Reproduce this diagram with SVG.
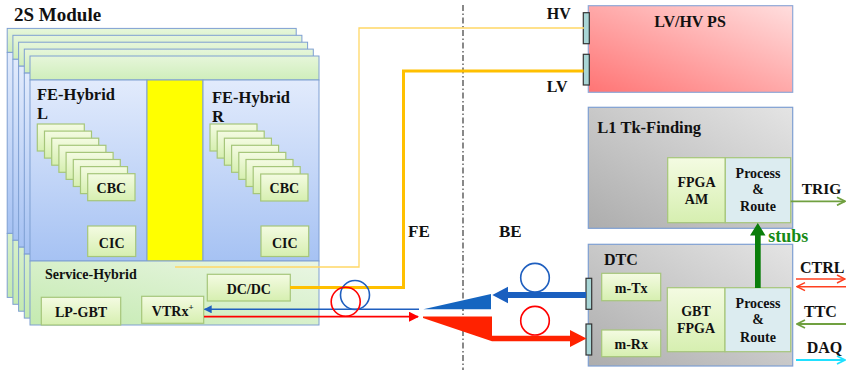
<svg xmlns="http://www.w3.org/2000/svg" width="846" height="370" viewBox="0 0 846 370">
<defs>
<linearGradient id="gTop" x1="0" y1="0" x2="0" y2="1"><stop offset="0" stop-color="#e6f6da"/><stop offset="1" stop-color="#cfeebb"/></linearGradient>
<linearGradient id="gBlue" x1="0" y1="0" x2="0" y2="1"><stop offset="0" stop-color="#e2ebfc"/><stop offset="1" stop-color="#a6c2f3"/></linearGradient>
<linearGradient id="gSvc" x1="0" y1="1" x2="1" y2="0"><stop offset="0" stop-color="#c4eab0"/><stop offset="1" stop-color="#eaf6e4"/></linearGradient>
<linearGradient id="gChip" x1="0" y1="0" x2="0" y2="1"><stop offset="0" stop-color="#f4fbe2"/><stop offset="1" stop-color="#d6efb0"/></linearGradient>
<linearGradient id="gGray" x1="0" y1="1" x2="1" y2="0"><stop offset="0" stop-color="#adadad"/><stop offset="1" stop-color="#e4e4e4"/></linearGradient>
<linearGradient id="gRed" x1="0" y1="1" x2="1" y2="0"><stop offset="0" stop-color="#ff7474"/><stop offset="1" stop-color="#ffdede"/></linearGradient>
<marker id="aBlue" viewBox="0 0 10 10" refX="9" refY="5" markerWidth="8" markerHeight="8" markerUnits="userSpaceOnUse" orient="auto"><path d="M0,0 L10,5 L0,10 Z" fill="#1f5fbf"/></marker>
<marker id="aRed" viewBox="0 0 10 10" refX="9" refY="5" markerWidth="10" markerHeight="10" markerUnits="userSpaceOnUse" orient="auto"><path d="M0,0 L10,5 L0,10 Z" fill="#ff0000"/></marker>
<marker id="oRed" viewBox="0 0 10 10" refX="9" refY="5" markerWidth="10" markerHeight="10" markerUnits="userSpaceOnUse" orient="auto"><path d="M1,1 L9,5 L1,9" fill="none" stroke="#ff4020" stroke-width="1.5"/></marker>
<marker id="oGreen" viewBox="0 0 10 10" refX="9" refY="5" markerWidth="10" markerHeight="10" markerUnits="userSpaceOnUse" orient="auto"><path d="M1,1 L9,5 L1,9" fill="none" stroke="#70a040" stroke-width="1.8"/></marker>
<marker id="oCyan" viewBox="0 0 10 10" refX="9" refY="5" markerWidth="10" markerHeight="10" markerUnits="userSpaceOnUse" orient="auto"><path d="M1,1 L9,5 L1,9" fill="none" stroke="#20e0ff" stroke-width="1.8"/></marker>
</defs>
<style>
text{font-family:"Liberation Serif","Times New Roman",serif;font-weight:bold;fill:#111}
.m{text-anchor:middle}
.edge{stroke:#7e9fd2;stroke-width:1}
.chip{fill:url(#gChip);stroke:#a6c67a;stroke-width:1.2}
.conn{fill:#a9d6d6;stroke:#333;stroke-width:1.2}
.big{fill:url(#gGray);stroke:#7e9fd2;stroke-width:1.2}
.t14{font-size:14px}
.t16{font-size:16px}
</style>
<rect width="846" height="370" fill="#fff"/>

<text x="14" y="21" style="font-size:19px">2S Module</text>

<g id="layer4" transform="translate(-22.8,-27.6)">
<rect x="30" y="56" width="289" height="24" fill="url(#gTop)" class="edge"/>
<rect x="30" y="80" width="289" height="181" fill="url(#gBlue)" class="edge"/>
<rect x="30" y="261" width="289" height="64" fill="url(#gSvc)" class="edge"/>
</g>
<g id="layer3" transform="translate(-17.1,-20.7)">
<rect x="30" y="56" width="289" height="24" fill="url(#gTop)" class="edge"/>
<rect x="30" y="80" width="289" height="181" fill="url(#gBlue)" class="edge"/>
<rect x="30" y="261" width="289" height="64" fill="url(#gSvc)" class="edge"/>
</g>
<g id="layer2" transform="translate(-11.4,-13.8)">
<rect x="30" y="56" width="289" height="24" fill="url(#gTop)" class="edge"/>
<rect x="30" y="80" width="289" height="181" fill="url(#gBlue)" class="edge"/>
<rect x="30" y="261" width="289" height="64" fill="url(#gSvc)" class="edge"/>
</g>
<g id="layer1" transform="translate(-5.7,-6.9)">
<rect x="30" y="56" width="289" height="24" fill="url(#gTop)" class="edge"/>
<rect x="30" y="80" width="289" height="181" fill="url(#gBlue)" class="edge"/>
<rect x="30" y="261" width="289" height="64" fill="url(#gSvc)" class="edge"/>
</g>

<g id="module-front">
<rect x="30" y="56" width="289" height="24" fill="url(#gTop)" class="edge"/>
<rect x="30" y="80" width="117" height="181" fill="url(#gBlue)" class="edge"/>
<rect x="147" y="80" width="56" height="181" fill="#ffff00" class="edge"/>
<rect x="203" y="80" width="116" height="181" fill="url(#gBlue)" class="edge"/>
</g>

<g id="fe-hybrid-l">
<text x="37" y="100" style="font-size:16.5px">FE-Hybrid</text>
<text x="37" y="119" style="font-size:16.5px">L</text>
<rect class="chip" x="37.3" y="124" width="47" height="27"/>
<rect class="chip" x="44.5" y="131.1" width="47" height="27"/>
<rect class="chip" x="51.7" y="138.2" width="47" height="27"/>
<rect class="chip" x="58.9" y="145.3" width="47" height="27"/>
<rect class="chip" x="66.1" y="152.4" width="47" height="27"/>
<rect class="chip" x="73.3" y="159.5" width="47" height="27"/>
<rect class="chip" x="80.5" y="166.6" width="47" height="27"/>
<g id="cbc-l"><rect class="chip" x="87.7" y="173.7" width="47.3" height="27"/><text class="m t14" x="111.3" y="193">CBC</text></g>
<g id="cic-l"><rect class="chip" x="87.7" y="226" width="48" height="30.5"/><text class="m t14" x="111.7" y="247.5">CIC</text></g>
</g>

<g id="fe-hybrid-r">
<text x="212" y="103" style="font-size:16.5px">FE-Hybrid</text>
<text x="212" y="122" style="font-size:16.5px">R</text>
<rect class="chip" x="210" y="124" width="47" height="27"/>
<rect class="chip" x="217.2" y="131.1" width="47" height="27"/>
<rect class="chip" x="224.4" y="138.2" width="47" height="27"/>
<rect class="chip" x="231.6" y="145.3" width="47" height="27"/>
<rect class="chip" x="238.8" y="152.4" width="47" height="27"/>
<rect class="chip" x="246" y="159.5" width="47" height="27"/>
<rect class="chip" x="253.2" y="166.6" width="47" height="27"/>
<g id="cbc-r"><rect class="chip" x="260.7" y="174" width="47.3" height="27"/><text class="m t14" x="284.3" y="193.3">CBC</text></g>
<g id="cic-r"><rect class="chip" x="261" y="226" width="47.7" height="30.5"/><text class="m t14" x="284.8" y="247.5">CIC</text></g>
</g>

<g id="service-hybrid">
<rect x="30" y="261" width="289" height="64" fill="url(#gSvc)" class="edge"/>
<text class="t14" x="45" y="279.3">Service-Hybrid</text>
<g id="lp-gbt"><rect class="chip" x="41.3" y="297.3" width="79.4" height="27.7"/><text class="m t14" x="81" y="316.7">LP-GBT</text></g>
<g id="vtrx"><rect class="chip" x="141.7" y="296.3" width="62" height="27"/><text class="m t14" x="172.7" y="316">VTRx<tspan dy="-6" style="font-size:9px">+</tspan></text></g>
<g id="dcdc"><rect class="chip" x="207.3" y="274.3" width="83" height="26.7"/><text class="m t14" x="248.8" y="293.7">DC/DC</text></g>
</g>

<g id="lvhv-ps">
<rect x="588.3" y="5.7" width="204.4" height="86.6" fill="url(#gRed)" stroke="#8fa8d8" stroke-width="1.2"/>
<text class="m t16" x="690" y="26.7">LV/HV PS</text>
<rect class="conn" x="583.3" y="12.7" width="6" height="31"/>
<rect class="conn" x="583.3" y="54.3" width="6" height="30.7"/>
</g>

<g id="l1-tk-finding">
<rect class="big" x="588.3" y="107.3" width="204.4" height="121"/>
<text x="597.3" y="133.3" style="font-size:16.5px">L1 Tk-Finding</text>
<g id="fpga-am"><rect class="chip" x="667.7" y="157.7" width="57.6" height="65"/><text class="m t14" x="696.5" y="187.3">FPGA</text><text class="m t14" x="696.5" y="204">AM</text></g>
<g id="pr-l1"><rect x="725.3" y="157.7" width="65.4" height="65" fill="#dcecf0" stroke="#a6c67a" stroke-width="1.2"/><text class="m t14" x="758" y="178.3">Process</text><text class="m t14" x="758" y="194">&amp;</text><text class="m t14" x="758" y="210.7">Route</text></g>
</g>

<g id="dtc">
<rect class="big" x="588.3" y="244.3" width="204.4" height="121.7"/>
<text class="t16" x="604" y="265">DTC</text>
<g id="m-tx"><rect class="chip" x="601.7" y="273.3" width="59" height="27.4"/><text class="m t14" x="631.2" y="293">m-Tx</text></g>
<g id="m-rx"><rect class="chip" x="601.7" y="330" width="59" height="26.7"/><text class="m t14" x="631.2" y="349">m-Rx</text></g>
<g id="gbt-fpga"><rect class="chip" x="667.3" y="287.7" width="57.7" height="64"/><text class="m t14" x="696" y="316">GBT</text><text class="m t14" x="696" y="333">FPGA</text></g>
<g id="pr-dtc"><rect x="725" y="287.7" width="65.7" height="64" fill="#dcecf0" stroke="#a6c67a" stroke-width="1.2"/><text class="m t14" x="758" y="308.3">Process</text><text class="m t14" x="758" y="324.3">&amp;</text><text class="m t14" x="758" y="341.7">Route</text></g>
<rect class="conn" x="586" y="278.3" width="5.7" height="31"/>
<rect class="conn" x="586" y="324" width="5.7" height="31"/>
</g>

<g id="labels">
<text class="t16" x="546.7" y="19.3">HV</text>
<text class="t16" x="546.7" y="92">LV</text>
<text x="408" y="237" style="font-size:17px">FE</text>
<text x="499" y="237" style="font-size:17px">BE</text>
<text x="801.7" y="194" style="font-size:15.5px">TRIG</text>
<text x="768.3" y="241.7" style="font-size:18px;fill:#168a16">stubs</text>
<text class="t16" x="800" y="273.3">CTRL</text>
<text class="t16" x="804" y="316.5">TTC</text>
<text class="t16" x="806.7" y="353">DAQ</text>
</g>

<g id="connectors">
<line x1="463" y1="5" x2="463" y2="370" stroke="#4a4a4a" stroke-width="1.3" stroke-dasharray="6 2.5 1.5 2.5"/>
<path d="M175,267 H359 V28 H584" fill="none" stroke="#ffd766" stroke-width="1.3"/>
<path d="M290,287.5 H403.5 V71 H583.5" fill="none" stroke="#ffc000" stroke-width="3"/>
<line x1="419" y1="309.3" x2="204.5" y2="309.3" stroke="#1f5fbf" stroke-width="1.6" marker-end="url(#aBlue)"/>
<line x1="204" y1="316.7" x2="418" y2="316.7" stroke="#ff0000" stroke-width="1.8" marker-end="url(#aRed)"/>
<circle cx="355" cy="295" r="14.5" fill="none" stroke="#1f5fbf" stroke-width="1.6"/>
<circle cx="345.7" cy="301.7" r="14.5" fill="none" stroke="#ff0000" stroke-width="1.6"/>
<polygon points="423.3,309.3 491,294 491,309.3" fill="#1565c0"/>
<polygon points="492.3,295 508,286.7 508,292 586,292 586,298 508,298 508,303.3" fill="#1a5fbf"/>
<circle cx="535" cy="277.7" r="14.3" fill="none" stroke="#1f5fbf" stroke-width="1.6"/>
<polygon points="423,316.5 492,316.5 492,335.8 570,335.8 570,330 586.5,338.5 570,347 570,341.2 492,341.2 423,318" fill="#ff2200"/>
<circle cx="535" cy="320.7" r="14.3" fill="none" stroke="#ff0000" stroke-width="1.6"/>
<polygon points="757.8,223 765.5,235.5 760.7,235.5 760.7,288 755,288 755,235.5 750,235.5" fill="#0a7e0a"/>
<line x1="790.7" y1="201.3" x2="845" y2="201.3" stroke="#70a040" stroke-width="1.8" marker-end="url(#oGreen)"/>
<line x1="796" y1="279" x2="845" y2="279" stroke="#ff4020" stroke-width="1.5" marker-end="url(#oRed)"/>
<line x1="846" y1="286.7" x2="797" y2="286.7" stroke="#ff4020" stroke-width="1.5" marker-end="url(#oRed)"/>
<line x1="846" y1="324" x2="797" y2="324" stroke="#70a040" stroke-width="1.8" marker-end="url(#oGreen)"/>
<line x1="796" y1="360" x2="845" y2="360" stroke="#20e0ff" stroke-width="1.8" marker-end="url(#oCyan)"/>
</g>
</svg>
